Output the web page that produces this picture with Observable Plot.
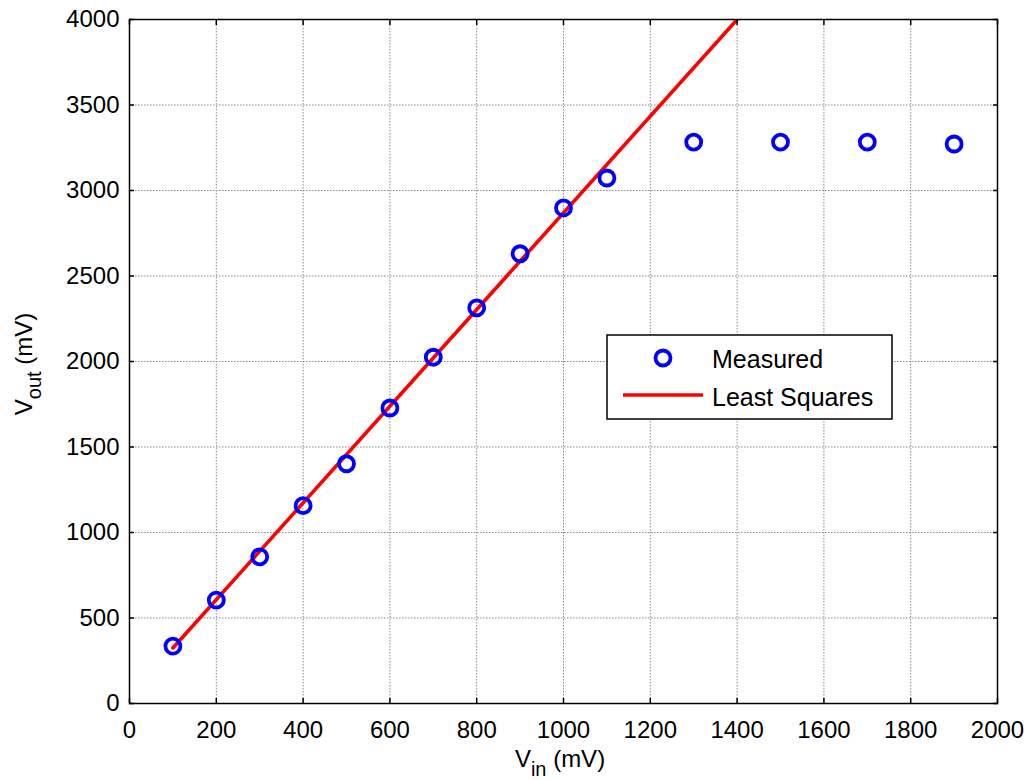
<!DOCTYPE html>
<html>
<head>
<meta charset="utf-8">
<script src="https://cdn.jsdelivr.net/npm/d3@7"></script>
<script src="https://cdn.jsdelivr.net/npm/@observablehq/plot@0.6"></script>
<style>
  html, body { margin: 0; padding: 0; background: #fff; }
  #chart { width: 1028px; height: 780px; }
</style>
</head>
<body>
<div id="chart"></div>
<script>
// Measured points
const vin = [100, 200, 300, 400, 500, 600, 700, 800, 900, 1000, 1100, 1300, 1500, 1700, 1900];
const vout = [335, 605, 858, 1157, 1402, 1728, 2025, 2314, 2630, 2898, 3073, 3283, 3283, 3283, 3272];
// Least squares line endpoints
const lsX = [100, 1400];
const lsY = [325, 4000];
// Ticks
const xTicks = [0, 200, 400, 600, 800, 1000, 1200, 1400, 1600, 1800, 2000];
const yTicks = [0, 500, 1000, 1500, 2000, 2500, 3000, 3500, 4000];

const measured = vin.map((x, i) => ({x, y: vout[i]}));
const fit = lsX.map((x, i) => ({x, y: lsY[i]}));

const font = "'Liberation Sans', Arial, Helvetica, sans-serif";
const gridStyle = {stroke: "#8a8a8a", strokeOpacity: 1, strokeWidth: 1, strokeDasharray: "1.5,1.5"};
const noText = () => "";
const plain = d => String(d);

const svg = Plot.plot({
  width: 1028,
  height: 780,
  marginLeft: 129,
  marginRight: 31,
  marginTop: 19,
  marginBottom: 77,
  x: {domain: [0, 2000]},
  y: {domain: [0, 4000]},
  style: {fontFamily: font, fontSize: "24px", color: "black", background: "white"},
  marks: [
    Plot.gridX(xTicks, gridStyle),
    Plot.gridY(yTicks, gridStyle),
    Plot.line(fit, {x: "x", y: "y", stroke: "#ff0000", strokeWidth: 3.6, clip: true}),
    Plot.dot(measured, {x: "x", y: "y", r: 7.5, stroke: "#0000ff", strokeWidth: 3.8, fill: "none"}),
    Plot.frame({stroke: "black", strokeWidth: 1.5}),
    Plot.axisX(xTicks, {anchor: "bottom", tickSize: -5, tickFormat: noText, label: null, strokeWidth: 1.5}),
    Plot.axisX(xTicks, {anchor: "top", tickSize: -5, tickFormat: noText, label: null, strokeWidth: 1.5}),
    Plot.axisY(yTicks, {anchor: "left", tickSize: -5, tickFormat: noText, label: null, strokeWidth: 1.5}),
    Plot.axisY(yTicks, {anchor: "right", tickSize: -5, tickFormat: noText, label: null, strokeWidth: 1.5}),
    Plot.axisX(xTicks, {anchor: "bottom", tickSize: 0, tickPadding: 17, tickFormat: plain, label: null, fontSize: 24}),
    Plot.axisY(yTicks, {anchor: "left", tickSize: 0, tickPadding: 10, tickFormat: plain, label: null, fontSize: 24})
  ]
});

document.getElementById("chart").appendChild(svg);

const s = d3.select(svg);

// Axis titles with subscripts
const xl = s.append("text")
  .attr("x", 560).attr("y", 767)
  .attr("text-anchor", "middle")
  .attr("font-family", font).attr("font-size", 24).attr("fill", "black");
xl.append("tspan").text("V");
xl.append("tspan").attr("dy", 9).attr("font-size", 20).text("in");
xl.append("tspan").attr("dy", -9).text(" (mV)");

const yl = s.append("text")
  .attr("transform", "translate(32,364) rotate(-90)")
  .attr("text-anchor", "middle")
  .attr("font-family", font).attr("font-size", 24).attr("fill", "black");
yl.append("tspan").text("V");
yl.append("tspan").attr("dy", 9).attr("font-size", 20).text("out");
yl.append("tspan").attr("dy", -9).text(" (mV)");

// Legend
const lg = s.append("g").attr("font-family", font).attr("font-size", 25).attr("text-anchor", "start");
lg.append("rect").attr("x", 607).attr("y", 335).attr("width", 285).attr("height", 84)
  .attr("fill", "white").attr("stroke", "black").attr("stroke-width", 1.5);
lg.append("circle").attr("cx", 663).attr("cy", 358).attr("r", 7.5)
  .attr("fill", "none").attr("stroke", "#0000ff").attr("stroke-width", 3.8);
lg.append("line").attr("x1", 623).attr("x2", 703).attr("y1", 395).attr("y2", 395)
  .attr("stroke", "#ff0000").attr("stroke-width", 3.6);
lg.append("text").attr("x", 712).attr("y", 359).attr("dominant-baseline", "central").attr("fill", "black").text("Measured");
lg.append("text").attr("x", 712).attr("y", 397).attr("dominant-baseline", "central").attr("fill", "black").text("Least Squares");
</script>
</body>
</html>
